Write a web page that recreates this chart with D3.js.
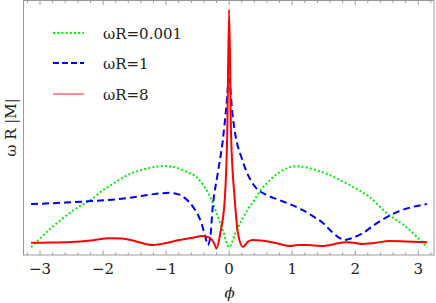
<!DOCTYPE html>
<html><head><meta charset="utf-8">
<script src="https://cdn.jsdelivr.net/npm/d3@7"></script>
<style>body{margin:0;background:#fff}svg{display:block}
text{font-family:'DejaVu Serif','Liberation Serif','Noto Serif',serif;fill:#222}</style>
</head><body>
<svg id="c" width="436" height="303"></svg>
<script>
// Data (y in arbitrary units of omega R |M|)
const greenX = [-3.1416,-2.8,-2.4,-2.2,-2.0,-1.8,-1.6,-1.4,-1.2,-1.05,-0.9,-0.7,-0.5,-0.4,-0.3,-0.2,-0.1,0,0.1,0.2,0.3,0.4,0.5,0.6,0.8,1.07,1.38,1.6,1.91,2.23,2.5,2.81,3.1416];
const greenY = [0.031,0.113,0.191,0.22,0.26,0.292,0.322,0.34,0.352,0.357,0.354,0.336,0.308,0.276,0.232,0.168,0.10,0.032,0.088,0.14,0.184,0.22,0.26,0.288,0.332,0.356,0.34,0.32,0.28,0.232,0.168,0.112,0.031];
const blueX = [-3.1416,-2.6,-2.2,-1.8,-1.6,-1.4,-1.2,-0.95,-0.8,-0.7,-0.57,-0.44,-0.38,-0.34,-0.30,-0.26,-0.18,-0.1,-0.05,0,0.05,0.1,0.2,0.3,0.43,0.6,0.8,1.0,1.17,1.35,1.49,1.6,1.73,1.83,1.95,2.12,2.3,2.5,2.7,2.9,3.1416];
const blueY = [0.204,0.21,0.216,0.223,0.229,0.236,0.244,0.249,0.243,0.228,0.192,0.128,0.076,0.04,0.068,0.192,0.328,0.46,0.58,0.704,0.572,0.48,0.388,0.32,0.268,0.24,0.22,0.2,0.18,0.152,0.128,0.1,0.072,0.06,0.068,0.088,0.12,0.152,0.176,0.192,0.204];
const redX = [-3.1416,-2.8,-2.5,-2.2,-1.9,-1.7,-1.5,-1.21,-1.0,-0.79,-0.6,-0.42,-0.3,-0.24,-0.2,-0.14,-0.07,-0.03,0,0.03,0.09,0.14,0.22,0.3,0.38,0.5,0.64,0.8,0.96,1.1,1.23,1.36,1.49,1.6,1.73,1.86,2.0,2.12,2.3,2.55,2.8,3.1416];
const redY = [0.049,0.05,0.052,0.058,0.067,0.066,0.056,0.04,0.048,0.06,0.068,0.076,0.068,0.048,0.026,0.088,0.22,0.488,0.984,0.488,0.22,0.088,0.032,0.054,0.06,0.058,0.053,0.044,0.036,0.04,0.04,0.038,0.036,0.04,0.047,0.051,0.048,0.044,0.048,0.056,0.054,0.051];
const seriesNames = ["\u03c9R=0.001","\u03c9R=1","\u03c9R=8"];
const xTicks = [-3,-2,-1,0,1,2,3];

const svg = d3.select("#c");
const L = 23.5, R = 434, T = 0.5, B = 255;
const x = d3.scaleLinear().domain([-3.262, 3.25]).range([L, R]);
const y = d3.scaleLinear().domain([0, 1.02]).range([B, T]);
const FS = 15;

// frame
const frameColor = "#9a9a9a";
svg.append("rect").attr("x", L).attr("y", T).attr("width", R - L).attr("height", B - T)
  .attr("fill", "none").attr("stroke", frameColor).attr("stroke-width", 1);

// ticks
const minor = d3.range(-16, 17).map(i => i / 5).filter(v => Math.abs(v - Math.round(v)) > 1e-6);
const gt = svg.append("g");
minor.forEach(v => {
  const px = x(v);
  gt.append("line").attr("x1", px).attr("x2", px).attr("y1", B).attr("y2", B - 2.5).attr("stroke", frameColor);
  gt.append("line").attr("x1", px).attr("x2", px).attr("y1", T).attr("y2", T + 2.5).attr("stroke", frameColor);
});
xTicks.forEach(v => {
  const px = x(v);
  gt.append("line").attr("x1", px).attr("x2", px).attr("y1", B).attr("y2", B - 4.5).attr("stroke", frameColor);
  gt.append("line").attr("x1", px).attr("x2", px).attr("y1", T).attr("y2", T + 4.5).attr("stroke", frameColor);
  gt.append("text").attr("x", px).attr("y", 274).attr("text-anchor", "middle")
    .attr("font-size", FS).text(d3.format("")(v).replace("-", "\u2212"));
});

// axis labels
svg.append("text").attr("x", 229.5).attr("y", 298).attr("text-anchor", "middle")
  .attr("font-style", "italic").attr("font-size", FS).text("\u03d5");
svg.append("text").attr("transform", "translate(16,127.5) rotate(-90)").attr("text-anchor", "middle")
  .attr("font-size", FS).text("\u03c9 R |M|");

const line = d3.line().x(d => x(d[0])).y(d => y(d[1])).curve(d3.curveMonotoneX);
const g = svg.append("g");
svg.append("clipPath").attr("id", "cp").append("rect").attr("x", L).attr("y", T).attr("width", R-L).attr("height", B-T);
g.attr("clip-path", "url(#cp)");
g.append("path").datum(d3.zip(greenX, greenY)).attr("d", line).attr("fill", "none")
  .attr("stroke", "#00ee00").attr("stroke-width", 2).attr("stroke-dasharray", "2,2.2");
g.append("path").datum(d3.zip(blueX, blueY)).attr("d", line).attr("fill", "none")
  .attr("stroke", "#0000ff").attr("stroke-width", 2).attr("stroke-dasharray", "7,4");
g.append("path").datum(d3.zip(redX, redY)).attr("d", line).attr("fill", "none")
  .attr("stroke", "#ff0000").attr("stroke-width", 2);

// legend
const leg = [
  {name: seriesNames[0], color: "#00ee00", dash: "2,2.2", w: 2, y: 33},
  {name: seriesNames[1], color: "#0000ff", dash: "6,3", w: 2, y: 63},
  {name: seriesNames[2], color: "#ff4444", dash: null, w: 1.2, y: 94}
];
leg.forEach(l => {
  svg.append("line").attr("x1", 53).attr("x2", 84).attr("y1", l.y).attr("y2", l.y)
    .attr("stroke", l.color).attr("stroke-width", l.w).attr("stroke-dasharray", l.dash);
  svg.append("text").attr("x", 103).attr("y", l.y + 5.5)
    .attr("font-size", FS).text(l.name);
});
</script>
</body></html>
